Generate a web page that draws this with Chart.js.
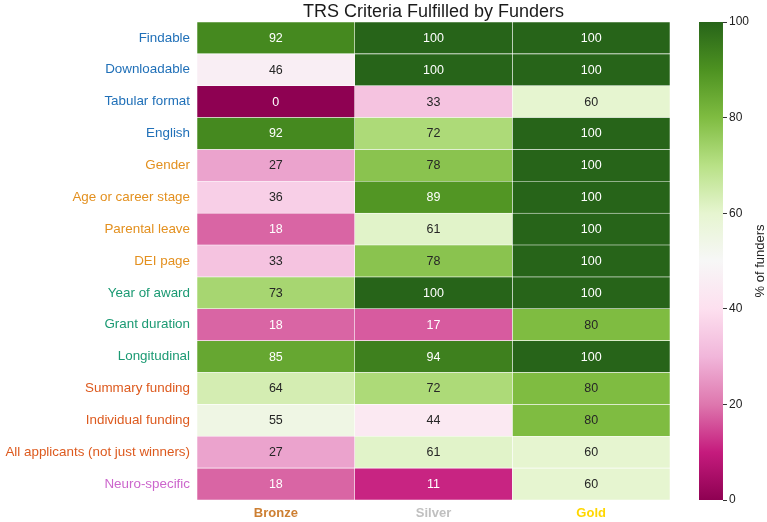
<!DOCTYPE html>
<html lang="en">
<head>
<meta charset="UTF-8">
<title>TRS Criteria Fulfilled by Funders</title>
<script src="https://cdn.jsdelivr.net/npm/chart.js"></script>
<style>
  html, body { margin: 0; padding: 0; background: #fff; }
  #wrap { width: 767px; height: 522px; }
</style>
</head>
<body>
<div id="wrap"><canvas id="heat"></canvas></div>
<script>
const criteria = ["Findable", "Downloadable", "Tabular format", "English", "Gender",
  "Age or career stage", "Parental leave", "DEI page", "Year of award", "Grant duration",
  "Longitudinal", "Summary funding", "Individual funding", "All applicants (not just winners)",
  "Neuro-specific"];
const levels = ["Bronze", "Silver", "Gold"];
const bronze = [92, 46, 0, 92, 27, 36, 18, 33, 73, 18, 85, 64, 55, 27, 18];
const silver = [100, 100, 33, 72, 78, 89, 61, 78, 100, 17, 94, 72, 44, 61, 11];
const gold = [100, 100, 60, 100, 100, 100, 100, 100, 100, 80, 100, 80, 80, 60, 60];

const labelColors = ["#2070b8", "#2070b8", "#2070b8", "#2070b8",
  "#e3901f", "#e3901f", "#e3901f", "#e3901f",
  "#1b9a73", "#1b9a73", "#1b9a73",
  "#dd5a1e", "#dd5a1e", "#dd5a1e",
  "#cc66cc"];
const levelColors = ["#cd7f32", "#c0c0c0", "#ffd700"];

const FONT = "'Liberation Sans', Arial, sans-serif";

// PiYG (colorbrewer, 11 stops)
const piyg = ["#8e0152", "#c51b7d", "#de77ae", "#f1b6da", "#fde0ef", "#f7f7f7",
  "#e6f5d0", "#b8e186", "#7fbc41", "#4d9221", "#276419"];

function hex2rgb(h) {
  return [parseInt(h.slice(1, 3), 16), parseInt(h.slice(3, 5), 16), parseInt(h.slice(5, 7), 16)];
}
function cmap(v) {
  const t = Math.max(0, Math.min(1, v / 100)) * (piyg.length - 1);
  const i = Math.min(Math.floor(t), piyg.length - 2);
  const f = t - i;
  const a = hex2rgb(piyg[i]), b = hex2rgb(piyg[i + 1]);
  const c = a.map((x, k) => Math.round(x + (b[k] - x) * f));
  return `rgb(${c[0]},${c[1]},${c[2]})`;
}

const values = [bronze, silver, gold];
const XMAX = 3.336;   // leaves room for the colorbar inside the plot area
const CB0 = 3.184;

const datasets = values.map((vals, c) => ({
  label: levels[c],
  data: criteria.map(() => [c, c + 1]),
  vals: vals,
  backgroundColor: vals.map(cmap),
  borderColor: "rgba(255,255,255,0.75)",
  borderWidth: 0.6,
  borderSkipped: false,
  barPercentage: 1,
  categoryPercentage: 1,
  grouped: false
}));

const annotate = {
  id: "annotate",
  afterDatasetsDraw(chart) {
    const ctx = chart.ctx;
    ctx.save();
    ctx.font = "12.5px " + FONT;
    ctx.textAlign = "center";
    ctx.textBaseline = "middle";
    chart.data.datasets.forEach((ds, di) => {
      chart.getDatasetMeta(di).data.forEach((el, i) => {
        const p = el.getProps(["x", "y", "base"], true);
        const v = ds.vals[i];
        ctx.fillStyle = (v < 20 || v >= 85) ? "#ffffff" : "#262626";
        ctx.fillText(String(v), (p.x + p.base) / 2, p.y + 0.5);
      });
    });
    ctx.restore();
  }
};

// colorbar, title and colorbar label
const extras = {
  id: "extras",
  afterDatasetsDraw(chart) {
    const { ctx, scales } = chart;
    const x0 = scales.x.getPixelForValue(CB0);
    const x1 = scales.x.getPixelForValue(XMAX);
    const top = scales.y2.getPixelForValue(100);
    const bot = scales.y2.getPixelForValue(0);
    const g = ctx.createLinearGradient(0, bot, 0, top);
    piyg.forEach((c, i) => g.addColorStop(i / (piyg.length - 1), c));
    ctx.save();
    ctx.fillStyle = g;
    ctx.fillRect(x0, top, x1 - x0, bot - top);

    ctx.fillStyle = "#1a1a1a";
    ctx.font = "18px " + FONT;
    ctx.textAlign = "center";
    ctx.textBaseline = "middle";
    ctx.fillText("TRS Criteria Fulfilled by Funders", scales.x.getPixelForValue(1.5), 12);

    ctx.fillStyle = "#222";
    ctx.font = "13px " + FONT;
    ctx.translate(760, (top + bot) / 2);
    ctx.rotate(-Math.PI / 2);
    ctx.fillText("% of funders", 0, 0);
    ctx.restore();
  }
};

new Chart(document.getElementById("heat"), {
  type: "bar",
  data: { labels: criteria, datasets: datasets },
  options: {
    indexAxis: "y",
    responsive: true,
    maintainAspectRatio: false,
    animation: false,
    layout: { padding: { left: 0, right: 16, top: 22, bottom: 0 } },
    plugins: {
      legend: { display: false },
      tooltip: { enabled: false },
      title: { display: false }
    },
    scales: {
      x: {
        type: "linear",
        min: 0,
        max: XMAX,
        grid: { display: false, drawTicks: false },
        border: { display: false },
        afterBuildTicks: s => { s.ticks = levels.map((_, i) => ({ value: i + 0.5 })); },
        afterFit: s => { s.height = 22; },
        ticks: {
          autoSkip: false,
          maxRotation: 0,
          padding: 6,
          callback: (v, i) => levels[i],
          color: c => levelColors[c.index],
          font: { family: FONT, size: 13, weight: "bold" }
        }
      },
      y: {
        grid: { display: false, drawTicks: false },
        border: { display: false },
        afterFit: s => { s.width = 197; },
        ticks: {
          padding: 7,
          color: c => labelColors[c.index],
          font: { family: FONT, size: 13.4 }
        }
      },
      y2: {
        type: "linear",
        position: "right",
        offset: false,
        min: 0,
        max: 100,
        grid: { drawOnChartArea: false, drawTicks: true, tickLength: 4, color: "#333", offset: false },
        border: { display: false },
        ticks: {
          stepSize: 20,
          padding: 2,
          color: "#222",
          font: { family: FONT, size: 12 }
        }
      }
    }
  },
  plugins: [annotate, extras]
});
</script>
</body>
</html>
